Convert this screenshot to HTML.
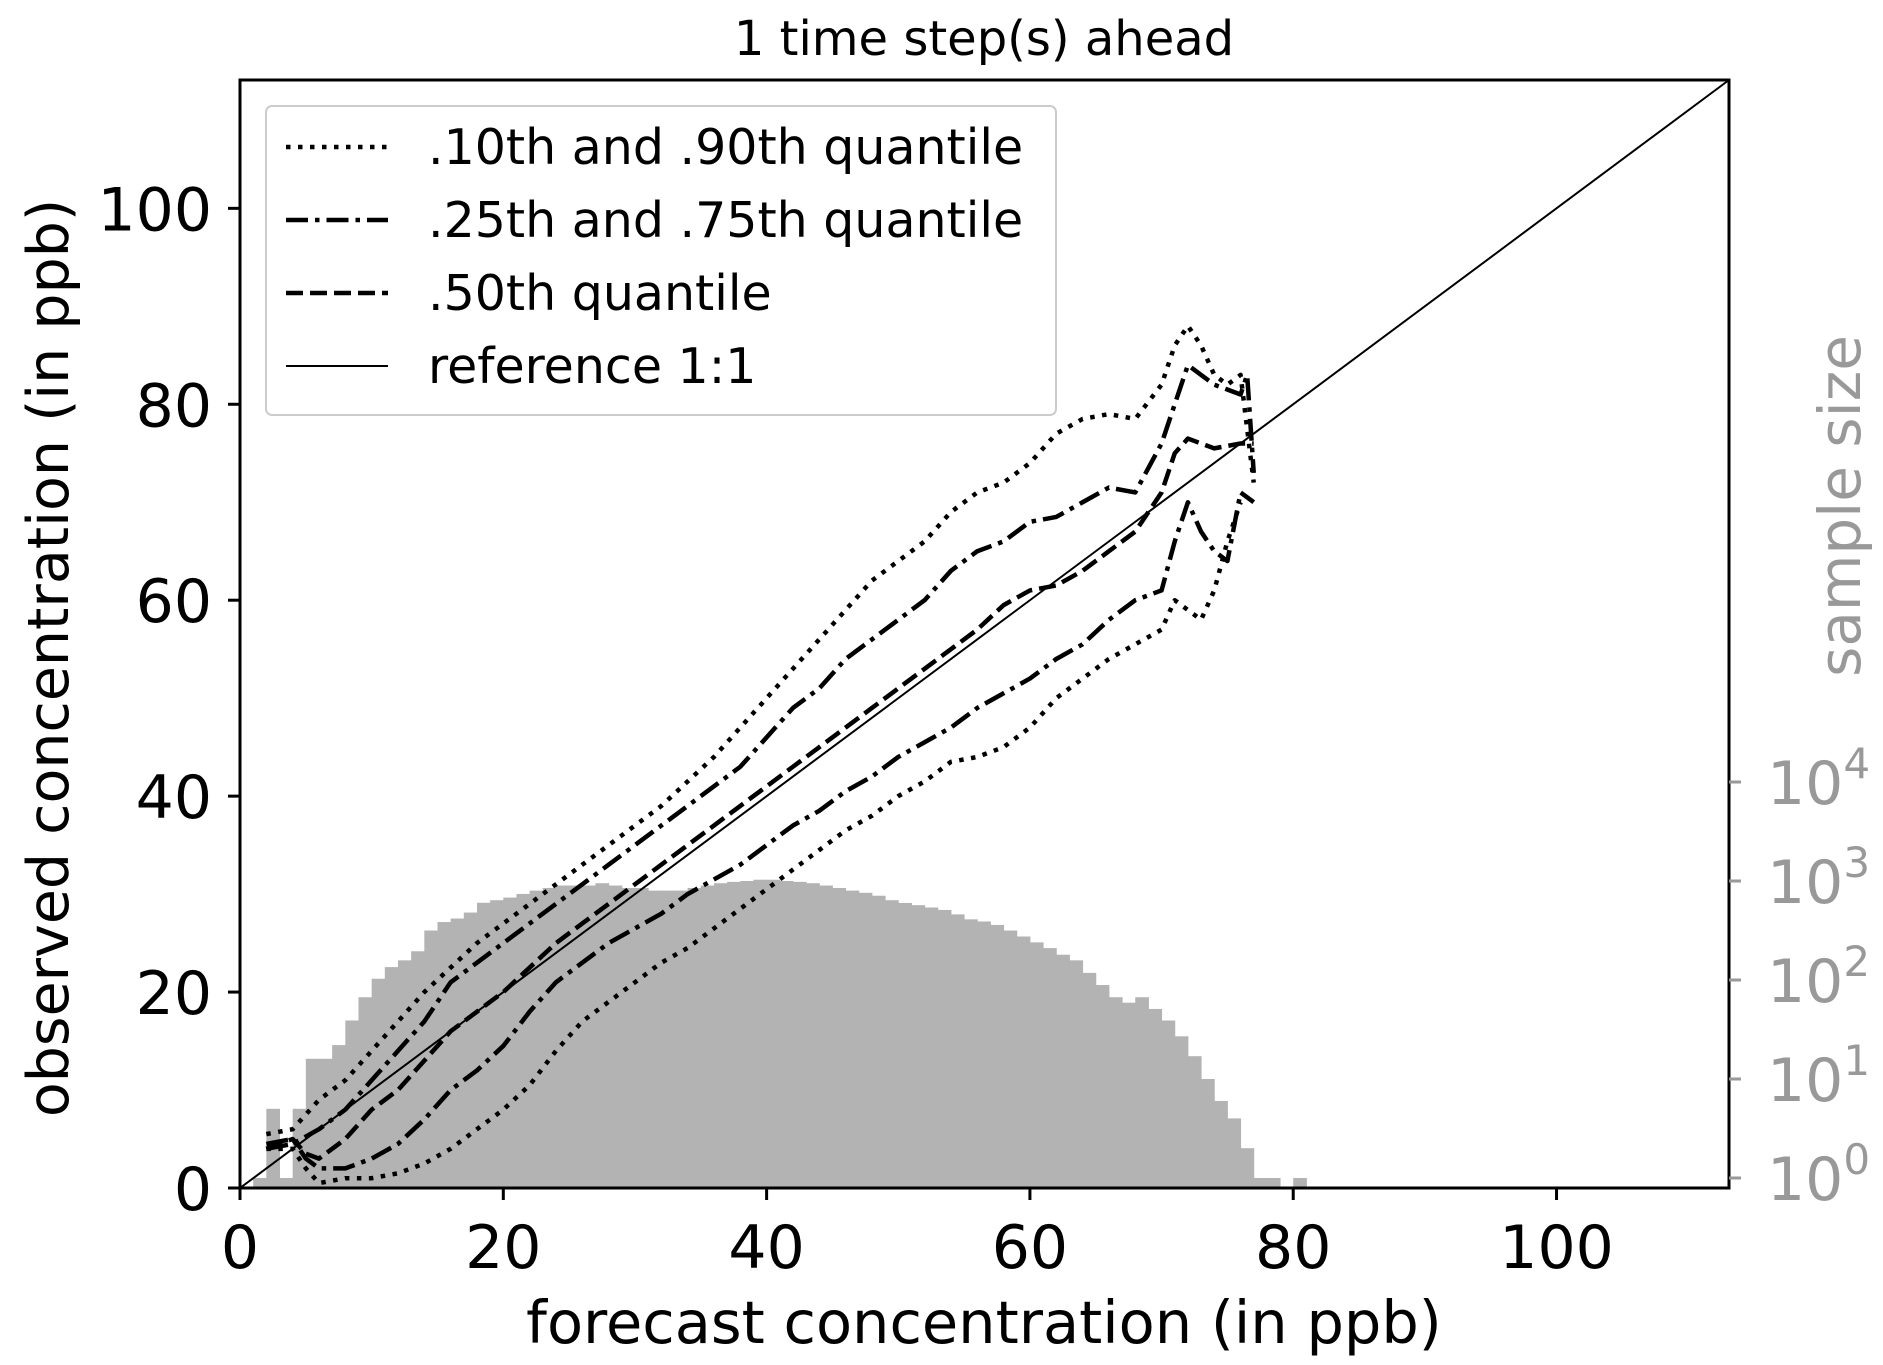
<!DOCTYPE html>
<html><head><meta charset="utf-8">
<style>
html,body{margin:0;padding:0;background:#fff;}
svg{display:block;font-family:"DejaVu Sans","Liberation Sans",sans-serif;}
</style></head>
<body>
<svg id="chart" width="1883" height="1365" viewBox="0 0 1883 1365" xmlns="http://www.w3.org/2000/svg">
<text x="984" y="55" font-size="48" text-anchor="middle">1 time step(s) ahead</text>
<g id="hist"></g>
<g id="lines"></g>
<g id="axes"></g>
<g id="legend"></g>
<text x="984" y="1343" font-size="59" text-anchor="middle">forecast concentration (in ppb)</text>
<text transform="translate(68,658) rotate(-90)" font-size="57" text-anchor="middle">observed concentration (in ppb)</text>
<text transform="translate(1860,506) rotate(-90)" font-size="58" fill="#999" text-anchor="middle">sample size</text>
</svg>
<script>
const xTicks=[0,20,40,60,80,100];
const yTicks=[0,20,40,60,80,100];
const rTicks=[0,1,2,3,4];
const histStart=[1,2,3,4,5,6,7,8,9,10,11,12,13,14,15,16,17,18,19,20,21,22,23,24,25,26,27,28,29,30,31,32,33,34,35,36,37,38,39,40,41,42,43,44,45,46,47,48,49,50,51,52,53,54,55,56,57,58,59,60,61,62,63,64,65,66,67,68,69,70,71,72,73,74,75,76,77,78,80];
const histCount=[1,5,1,5,16,16,22,39,67,103,135,158,195,316,385,418,480,603,640,680,740,800,850,900,900,900,950,900,850,850,800,800,800,850,900,950,980,1000,1030,1030,1000,980,950,900,850,800,760,710,640,600,570,540,510,460,410,390,360,316,275,240,210,180,158,118,89,67,59,67,51,39,27,17,10,6,4,2,1,1,1];
const q90x=[2,4,6,8,10,12,14,16,18,20,22,24,26,28,30,32,34,36,38,40,42,44,46,48,50,52,54,56,58,60,62,64,66,68,70,71,72,73,74,75,76,77];
const q90y=[5.5,6,9,11,14,17,20,22.5,25,27,29,31,33,35,37,39,41.5,44,47,50,53,56,59,62,64,66,69,71,72,74,77,78.5,79,78.5,82,86,88,86,83,82,83,72];
const q75x=[2,4,6,8,10,12,14,16,18,20,22,24,26,28,30,32,34,36,38,40,42,44,46,48,50,52,54,56,58,60,62,64,66,68,70,71,72,74,76,76.5,77];
const q75y=[4,4.5,6,8,11,14,17,21,23,25,27,29,31,33,35,37,39,41,43,46,49,51,54,56,58,60,63,65,66,68,68.5,70,71.5,71,76,80,84,82,81,83,73];
const q50x=[2,3,4,5,6,8,10,12,14,16,18,20,22,24,26,28,30,32,34,36,38,40,42,44,46,48,50,52,54,56,58,60,62,64,66,68,70,71,72,74,76,77];
const q50y=[4,4.5,5,3.5,3,5,8,10,13,16,18,20,22.5,25,27,29,31,33,35,37,39,41,43,45,47,49,51,53,55,57,59.5,61,61.5,63,65,67,71,75,76.5,75.5,76,76];
const q25x=[2,4,5,6,8,10,12,14,16,18,20,22,24,26,28,30,32,34,36,38,40,42,44,46,48,50,52,54,56,58,60,62,64,66,68,70,71,72,73,74,75,76,77];
const q25y=[4.5,5,3,2,2,3,4.5,7,10,12,14.5,18,21,23,25,26.5,28,30,31.5,33,35,37,38.5,40.5,42,44,45.5,47,49,50.5,52,54,55.5,58,60,61,66,70,67,65,64,71,70];
const q10x=[2,4,5,6,8,10,12,14,16,18,20,22,24,26,28,30,32,34,36,38,40,42,44,46,48,50,52,54,56,58,60,62,64,66,68,70,71,72,73,74,75,76];
const q10y=[4,4,2,0.5,1,1,1.5,2.5,4,6,8,10.5,14,17,19,21,23,24.5,26.5,28.5,30.5,32.5,34.5,36.5,38,40,41.5,43.5,44,45,47,50,52,54,55.5,57,60,59,58,61,66,70];

const NS='http://www.w3.org/2000/svg';
const L=240,R=1729,T=80,B=1188,MAX=113.1;
const sx=v=>L+v*(R-L)/MAX;
const sy=v=>B-v*(B-T)/MAX;
const R0=1178,DEC=99;
const sr=c=>R0-Math.log10(c)*DEC;
function mk(tag,attrs,parent){const e=document.createElementNS(NS,tag);for(const k in attrs)e.setAttribute(k,attrs[k]);parent.appendChild(e);return e;}

const hist=document.getElementById('hist');
histStart.forEach((s,i)=>{
  const y=sr(histCount[i]);
  const r=mk('rect',{x:sx(s),y:y,width:sx(s+1)-sx(s)+0.5,height:B-y,fill:'#b3b3b3'},hist);
  
  
});

const lines=document.getElementById('lines');
const ref=mk('line',{x1:sx(0),y1:sy(0),x2:sx(MAX),y2:sy(MAX),stroke:'#000','stroke-width':2},lines);


function poly(xs,ys,dash,name){
  const p=mk('polyline',{points:xs.map((x,i)=>sx(x)+','+sy(ys[i])).join(' '),fill:'none',stroke:'#000','stroke-width':4.5,'stroke-dasharray':dash,'stroke-linejoin':'round'},lines);
  
  
}
const DOT='4.5 7.5',DASHDOT='22 7 4.5 7',DASH='17 7';
poly(q90x,q90y,DOT,'q90-line');
poly(q10x,q10y,DOT,'q10-line');
poly(q75x,q75y,DASHDOT,'q75-line');
poly(q25x,q25y,DASHDOT,'q25-line');
poly(q50x,q50y,DASH,'q50-line');

const axes=document.getElementById('axes');
const frame=mk('rect',{x:L,y:T,width:R-L,height:B-T,fill:'none',stroke:'#000','stroke-width':3},axes);


xTicks.forEach(v=>{
  mk('line',{x1:sx(v),y1:B,x2:sx(v),y2:B+12,stroke:'#000','stroke-width':3},axes);
  const t=mk('text',{x:sx(v),y:1268,'font-size':60,'text-anchor':'middle'},axes);
  t.textContent=v;
  
  
});
yTicks.forEach(v=>{
  mk('line',{x1:L-12,y1:sy(v),x2:L,y2:sy(v),stroke:'#000','stroke-width':3},axes);
  const t=mk('text',{x:212,y:sy(v)+22,'font-size':60,'text-anchor':'end'},axes);
  t.textContent=v;
  
  
});
rTicks.forEach(v=>{
  const y=R0-v*DEC;
  mk('line',{x1:R,y1:y,x2:R+12,y2:y,stroke:'#999','stroke-width':3},axes);
  const t=mk('text',{x:1767,y:y+22,'font-size':60,fill:'#999'},axes);
  t.textContent='10';
  const s=mk('tspan',{dy:-26,'font-size':42},t);
  s.textContent=v;
  
  
});

const lg=document.getElementById('legend');
mk('rect',{x:266,y:106,width:790,height:309,rx:6,fill:'#fff','fill-opacity':0.85,stroke:'#ccc','stroke-width':2},lg);
const legLabels=['.10th and .90th quantile','.25th and .75th quantile','.50th quantile','reference 1:1'];
const legDash=[DOT,DASHDOT,DASH,''];
legLabels.forEach((lab,i)=>{
  const y=147+i*73;
  const ln=mk('line',{x1:286,y1:y,x2:388,y2:y,stroke:'#000','stroke-width':i==3?2:4.5,'stroke-dasharray':legDash[i]},lg);
  const t=mk('text',{x:428,y:y+17,'font-size':49},lg);
  t.textContent=lab;
  
  
});
</script>
</body></html>
